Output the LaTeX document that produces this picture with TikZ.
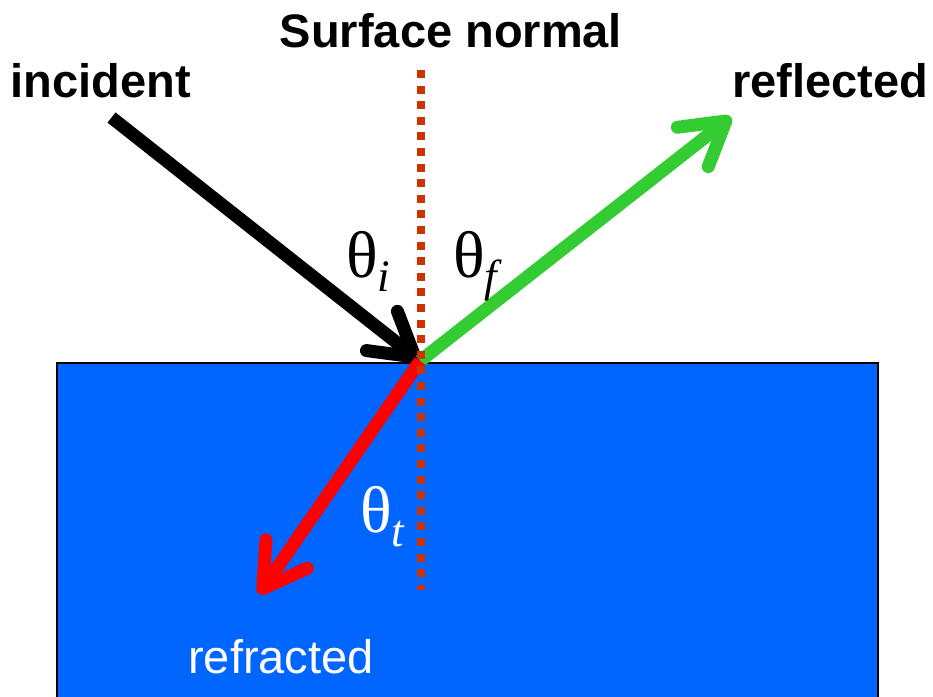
\documentclass[tikz,border=0pt]{standalone}
\usepackage{fontspec}
\setmainfont{Liberation Sans}
\newfontfamily\tnr{Liberation Serif}
\usetikzlibrary{arrows.meta}
\definecolor{waterblue}{HTML}{0066FF}
\definecolor{normalred}{HTML}{CC3300}
\definecolor{rayred}{HTML}{FF0000}
\definecolor{raygreen}{HTML}{33CC33}
\begin{document}
\begin{tikzpicture}[x=1pt,y=-1pt,
  ray/.style={line width=13pt, -{Straight Barb[length=42pt,width=50pt,round]}},
  lab/.style={font=\bfseries\fontsize{47}{47}\selectfont, inner sep=0pt, anchor=base},
  wlab/.style={font=\fontsize{47}{47}\selectfont, text=white, inner sep=0pt, anchor=base},
  ang/.style={inner sep=0pt, anchor=base west, font=\tnr\fontsize{66}{66}\selectfont},
  normalline/.style={normalred, line width=8pt, dash pattern=on 8pt off 7.6pt}]
\useasboundingbox (0,0) rectangle (933,696);
% medium
\draw[fill=waterblue, draw=black, line width=2.5pt] (57,710) |- (878,363) -- (878,710);
% coordinates
\coordinate (hit) at (420,361);
\coordinate (inc) at (111.5,117.5);
\coordinate (refl) at (731,117);
\coordinate (refr) at (259,594);
\coordinate (ntop) at (421,70);
\coordinate (nbot) at (421,590);
% rays
\draw[ray, black] (inc) -- (hit);
\draw[ray, raygreen] (hit) -- (refl);
\draw[ray, rayred] (hit) -- (refr);
% normal
\draw[normalline] (ntop) -- (nbot);
% labels
\node[lab] (tsn) at (451,47) {Surface normal};
\node[lab] (tinc) at (101,97) {incident};
\node[lab] (trefl) at (830,97) {reflected};
\node[wlab] (trefr) at (281,673) {refracted};
% angles
\node[ang] (thi) at (346,277) {θ\raisebox{-14pt}{\fontsize{45}{45}\selectfont\itshape i}};
\node[ang] (thf) at (453,277) {θ\raisebox{-14pt}{\fontsize{45}{45}\selectfont\itshape f}};
\node[ang, text=white] (tht) at (360,532) {θ\raisebox{-14pt}{\fontsize{45}{45}\selectfont\itshape t}};
\end{tikzpicture}
\end{document}
